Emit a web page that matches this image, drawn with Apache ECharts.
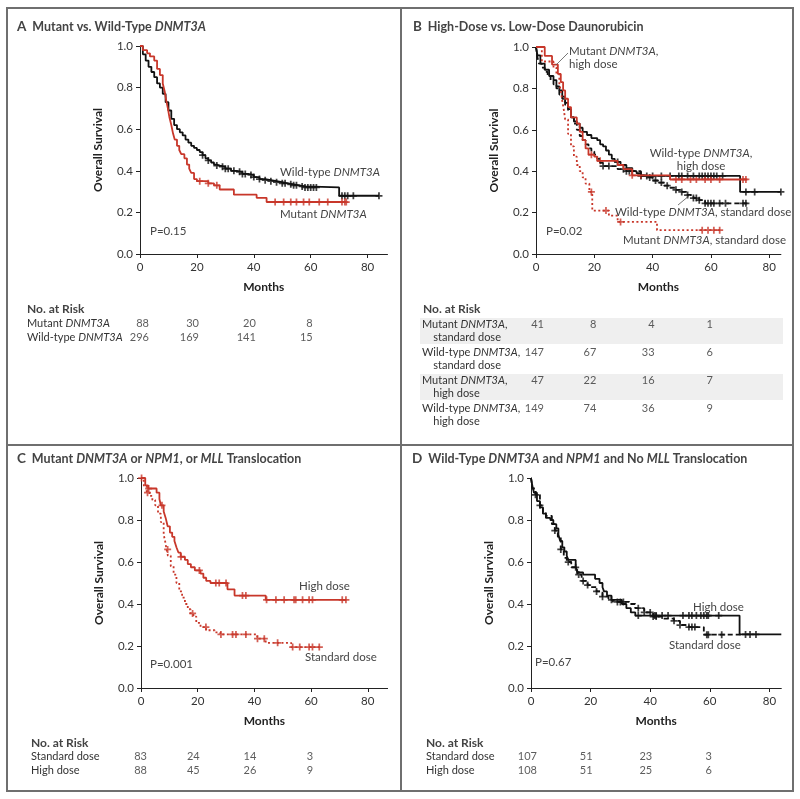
<!DOCTYPE html>
<html><head><meta charset="utf-8">
<script src="https://cdn.jsdelivr.net/npm/echarts@6/dist/echarts.min.js"></script>
<style>html,body{margin:0;padding:0;background:#fff}#c{width:800px;height:799px}</style>
</head><body><div id="c"></div>
<script>
// ---------- data ----------
const tickMonths = [0, 20, 40, 60, 80];
const riskMonths = [0, 20, 40, 60];

// Panel A
const aWildT = [0,1,2,3,4,5,6,7,8,9,10,11,12,13,14,15,16,17,18,19,20,21,22,23,24,25,26,27,28,30,32,34,36,38,40,42,44,46,48,50,52,54,56,58,70];
const aWildS = [1.0,0.96,0.93,0.90,0.875,0.85,0.82,0.80,0.77,0.73,0.69,0.65,0.62,0.60,0.585,0.57,0.55,0.535,0.52,0.51,0.50,0.49,0.475,0.46,0.45,0.44,0.43,0.425,0.42,0.41,0.40,0.395,0.385,0.38,0.37,0.36,0.355,0.35,0.345,0.34,0.335,0.33,0.325,0.32,0.28];
const aWildEnd = 84;
const aWildCens = [22,24,27,29,30,31,33,35,36,37,39,40,42,44,46,48,50,51,53,54,55,57,58,59,60,61,62,71,72,73,75,84];
const aMutT = [0,1,2.5,3.5,5,6,7,8,8.7,9.2,9.8,10.3,11,11.6,12.2,13,13.8,14.5,15.6,16.5,17.3,18,19,20,24,26,28,33,41,44.5];
const aMutS = [1.0,0.98,0.965,0.95,0.93,0.89,0.86,0.82,0.78,0.74,0.70,0.66,0.62,0.58,0.55,0.52,0.50,0.48,0.46,0.43,0.41,0.39,0.36,0.35,0.34,0.33,0.31,0.285,0.27,0.25];
const aMutEnd = 72.5;
const aMutCens = [21,24,27,47.5,50.5,53,55,57.5,59.5,63,66,71,72,72.5];
const aRiskMut = [88,30,20,8];
const aRiskWild = [296,169,141,15];

// Panel B
const bWtHighT = [0,0.5,1.5,3,4.5,6,7,8,9,10,11,12,13,14,15,16,17.5,19,21,22,23,24,25,26,27,29,31,33,34.5,36,70];
const bWtHighS = [1.0,0.96,0.92,0.89,0.86,0.84,0.81,0.79,0.76,0.73,0.70,0.66,0.64,0.63,0.61,0.59,0.575,0.56,0.55,0.53,0.52,0.50,0.48,0.46,0.445,0.43,0.415,0.40,0.39,0.377,0.30];
const bWtHighEnd = 84;
const bWtHighCens = [28,33,36,38,40,43,46,49,50,52,54,56,57,58,59,60,61,62,64,72,75,84];
const bWtStdT = [0,0.5,1,2,3,4,5,6,7,8,9,10,11,12,13,14,15,16,17,18,19,20,21,22,23,28,31,36,38,40,42,44,46,48,50,52,54,56,58];
const bWtStdS = [1.0,0.95,0.92,0.90,0.88,0.86,0.84,0.82,0.80,0.77,0.75,0.72,0.69,0.66,0.63,0.60,0.57,0.55,0.53,0.51,0.495,0.48,0.46,0.44,0.425,0.41,0.40,0.38,0.37,0.355,0.345,0.33,0.32,0.31,0.30,0.285,0.27,0.26,0.245];
const bWtStdEnd = 72.5;
const bWtStdCens = [23,25,30,31,32,36,39,41,43,45,48,50,52,54,55,56,58,59,60,61,63,65,71,72];
const bMutHighT = [0,3,5.5,7.5,8.5,9.3,10,11,12,14,15,16,17,18,20,21,28,30,33,46];
const bMutHighS = [1.0,0.957,0.915,0.87,0.83,0.79,0.75,0.71,0.66,0.63,0.59,0.55,0.51,0.48,0.47,0.45,0.43,0.41,0.38,0.36];
const bMutHighEnd = 72.5;
const bMutHighCens = [19,22,33,36,48,50,53,55,58,60,63,71,72];
const bMutStdT = [0,2,6,7,8,8.5,9,9.5,10,11,12,13,14,15,16,17,18.3,19.3,25,28,41.5];
const bMutStdS = [1.0,0.93,0.90,0.87,0.82,0.79,0.74,0.70,0.65,0.58,0.52,0.47,0.43,0.40,0.37,0.34,0.30,0.21,0.185,0.155,0.115];
const bMutStdEnd = 64;
const bMutStdCens = [19,24,29,57,59,61,63];
const bRiskMutStd = [41,8,4,1];
const bRiskWtStd = [147,67,33,6];
const bRiskMutHigh = [47,22,16,7];
const bRiskWtHigh = [149,74,36,9];

// Panel C
const cHighT = [0,1.5,2.5,5.5,6.5,7,8,8.7,9.4,10.2,11,11.8,12.5,13.2,14,15.5,16.5,17.6,19,21,22,23,24.5,30.5,33,44];
const cHighS = [1.0,0.965,0.95,0.93,0.90,0.87,0.84,0.81,0.77,0.74,0.72,0.70,0.67,0.645,0.625,0.61,0.59,0.575,0.56,0.545,0.525,0.51,0.50,0.47,0.44,0.42];
const cHighEnd = 72.5;
const cHighCens = [0.2,2.7,7.4,14.1,20.6,26.4,27.6,30,35.8,37,44.3,47.6,50.5,54,54.6,57,59.3,60.5,71,72.3];
const cStdT = [0,1,2,3,4,5,6,7,8,8.5,9,9.5,10.5,11.5,12.5,13.5,14.5,15.5,16.5,17.5,18.5,19.5,21,23,26,28,41,44,53];
const cStdS = [1.0,0.96,0.93,0.915,0.895,0.87,0.83,0.79,0.73,0.70,0.66,0.63,0.58,0.54,0.50,0.46,0.43,0.40,0.375,0.355,0.34,0.31,0.29,0.275,0.265,0.255,0.235,0.215,0.195];
const cStdEnd = 64;
const cStdCens = [2.3,9.4,18.2,22.9,28.2,32.3,33.5,37,41.1,43.5,48.2,53.5,56,59.3,60.5,62.9];
const cRiskStd = [83,24,14,3];
const cRiskHigh = [88,45,26,9];

// Panel D
const dHighT = [0,0.5,1,2,3,4,5,6.5,7.5,8.5,9.2,9.8,10.5,11.2,12,12.5,15,15.6,17.5,21.5,23,24,24.5,25.5,27,30.5,32,33.5,35,70];
const dHighS = [1.0,0.96,0.93,0.89,0.86,0.83,0.81,0.80,0.78,0.76,0.73,0.70,0.67,0.65,0.63,0.61,0.58,0.55,0.54,0.52,0.50,0.48,0.46,0.44,0.42,0.40,0.38,0.36,0.345,0.255];
const dHighEnd = 84;
const dHighCens = [36,41.5,42,44,46,51,53,54,55.5,57,58,59,59.5,63,72,73.5,75.5];
const dStdT = [0,0.5,1.5,3,4,5,7,8,9,10,11,12,13.5,15.5,17,19,20,22,24,26,27.5,33,35,38,41,44,48,50,53,58];
const dStdS = [1.0,0.95,0.92,0.87,0.84,0.82,0.78,0.75,0.72,0.66,0.62,0.60,0.575,0.54,0.51,0.49,0.48,0.46,0.435,0.42,0.41,0.40,0.38,0.36,0.34,0.33,0.32,0.30,0.29,0.254];
const dStdEnd = 71;
const dStdCens = [1.5,3,8,10,12.5,15,16,17.5,19,22,24,27,29,30,31,36,38,40,41,42,48,50,53,54,55,59,59.5,64];
const dRiskStd = [107,51,23,3];
const dRiskHigh = [108,51,25,6];

// ---------- helpers ----------
const FONT = 'Lato, "Noto Sans", sans-serif';
const RED = '#c8372a';
const BLACK = '#111';
const TXT = '#333';
const PLUS = 'path://M3,0H5V3H8V5H5V8H3V5H0V3H3Z';

function km(t, s, end) { const d = t.map((v, i) => [v, s[i]]); d.push([end, s[s.length - 1]]); return d; }
function sAt(t, s, x) { let v = s[0]; for (let i = 0; i < t.length; i++) if (t[i] <= x) v = s[i]; return v; }

const grids = [], xAxes = [], yAxes = [], series = [];

function addPlot(box, xMax) {
  const gi = grids.length;
  grids.push(Object.assign({ containLabel: false, outerBoundsMode: 'none' }, box));
  xAxes.push({
    gridIndex: gi, type: 'value', min: 0, max: xMax,
    axisLine: { show: true, onZero: false, lineStyle: { color: '#222', width: 1 } },
    axisTick: { show: true, length: 4, customValues: tickMonths, lineStyle: { color: '#222' } },
    axisLabel: { customValues: tickMonths, color: TXT, fontSize: 11.5, fontFamily: FONT, margin: 7 },
    splitLine: { show: false },
    name: 'Months', nameLocation: 'middle', nameGap: 27,
    nameTextStyle: { fontWeight: 'bold', fontSize: 12, color: '#222', fontFamily: FONT }
  });
  yAxes.push({
    gridIndex: gi, type: 'value', min: 0, max: 1, interval: 0.2,
    axisLine: { show: true, lineStyle: { color: '#222', width: 1 } },
    axisTick: { show: true, length: 4, lineStyle: { color: '#222' } },
    axisLabel: { formatter: v => v.toFixed(1), color: TXT, fontSize: 11.5, fontFamily: FONT, margin: 7 },
    splitLine: { show: false },
    name: 'Overall Survival', nameLocation: 'middle', nameGap: 36,
    nameTextStyle: { fontWeight: 'bold', fontSize: 12, color: '#222', fontFamily: FONT }
  });
  return gi;
}
function addCurve(gi, t, s, end, cens, color, dash) {
  series.push({
    type: 'line', xAxisIndex: gi, yAxisIndex: gi, step: 'end', showSymbol: false, silent: true,
    data: km(t, s, end), animation: false,
    lineStyle: { color: color, width: 1.8, type: dash || 'solid', cap: 'butt' }
  });
  series.push({
    type: 'scatter', xAxisIndex: gi, yAxisIndex: gi, symbol: PLUS, symbolSize: 7, silent: true,
    data: cens.map(x => [x, sAt(t, s, x)]), itemStyle: { color: color }, animation: false
  });
}
const rich = {
  n: { fontSize: 11, fontFamily: FONT, color: TXT },
  i: { fontSize: 11, fontFamily: FONT, color: TXT, fontStyle: 'italic' }
};
function addRisk(box, xMax, labels, rows, labelX, lh, numOffY, firstOff) {
  const gi = grids.length;
  grids.push(Object.assign({ containLabel: false, outerBoundsMode: 'none' }, box));
  xAxes.push({ gridIndex: gi, type: 'value', min: 0, max: xMax, show: false });
  yAxes.push({
    gridIndex: gi, type: 'category', inverse: true, data: labels,
    axisLine: { show: false }, axisTick: { show: false }, splitLine: { show: false },
    axisLabel: { interval: 0, hideOverlap: false, align: 'left', margin: box.left - labelX, fontSize: 11, fontFamily: FONT, color: TXT, lineHeight: lh, rich: rich,
      formatter: v => v }
  });
  const data = [];
  rows.forEach((r, ri) => r.forEach((n, ci) => data.push({
    value: [riskMonths[ci], ri, n],
    label: { offset: [ci === 0 ? firstOff : 2, numOffY] }
  })));
  series.push({
    type: 'scatter', xAxisIndex: gi, yAxisIndex: gi, symbolSize: 0, silent: true, animation: false,
    data: data,
    label: { show: true, position: 'inside', align: 'right', formatter: p => String(p.value[2]),
      fontSize: 11, fontFamily: FONT, color: TXT }
  });
}

// ---------- panels ----------
const gA = addPlot({ left: 140, top: 46, width: 247.5, height: 208 }, 87);
addCurve(gA, aWildT, aWildS, aWildEnd, aWildCens, BLACK);
addCurve(gA, aMutT, aMutS, aMutEnd, aMutCens, RED);
addRisk({ left: 140, top: 316, width: 247.5, height: 28 }, 87,
  ['{n|Mutant }{i|DNMT3A}', '{n|Wild-type }{i|DNMT3A}'], [aRiskMut, aRiskWild], 27, 14, 0, 9);

const gB = addPlot({ left: 536, top: 47, width: 244.9, height: 207 }, 84);
addCurve(gB, bWtStdT, bWtStdS, bWtStdEnd, bWtStdCens, BLACK, [5, 3]);
addCurve(gB, bWtHighT, bWtHighS, bWtHighEnd, bWtHighCens, BLACK);
addCurve(gB, bMutStdT, bMutStdS, bMutStdEnd, bMutStdCens, RED, [2, 2.5]);
addCurve(gB, bMutHighT, bMutHighS, bMutHighEnd, bMutHighCens, RED);
addRisk({ left: 536, top: 317, width: 244.9, height: 112 }, 84,
  ['{n|Mutant }{i|DNMT3A}{n|,}\n{n|    standard dose}', '{n|Wild-type }{i|DNMT3A}{n|,}\n{n|    standard dose}',
   '{n|Mutant }{i|DNMT3A}{n|,}\n{n|    high dose}', '{n|Wild-type }{i|DNMT3A}{n|,}\n{n|    high dose}'],
  [bRiskMutStd, bRiskWtStd, bRiskMutHigh, bRiskWtHigh], 422, 13, -6.5, 8);

const gC = addPlot({ left: 141, top: 478, width: 246.6, height: 210 }, 87);
addCurve(gC, cStdT, cStdS, cStdEnd, cStdCens, RED, [2, 2.5]);
addCurve(gC, cHighT, cHighS, cHighEnd, cHighCens, RED);
addRisk({ left: 141, top: 750, width: 246.6, height: 27 }, 87,
  ['{n|Standard dose}', '{n|High dose}'], [cRiskStd, cRiskHigh], 31, 14, 0, 6);

const gD = addPlot({ left: 531, top: 478, width: 250.3, height: 210 }, 84);
addCurve(gD, dStdT, dStdS, dStdEnd, dStdCens, BLACK, [5, 3]);
addCurve(gD, dHighT, dHighS, dHighEnd, dHighCens, BLACK);
addRisk({ left: 531, top: 750, width: 250.3, height: 27 }, 84,
  ['{n|Standard dose}', '{n|High dose}'], [dRiskStd, dRiskHigh], 426, 14, 0, 6);

// ---------- text / decoration ----------
const tRich = {
  l: { fontSize: 13.5, fontWeight: 'bold', fontFamily: FONT, color: '#111' },
  b: { fontSize: 12.5, fontWeight: 'bold', fontFamily: FONT, color: '#111' },
  bi: { fontSize: 12.5, fontWeight: 'bold', fontStyle: 'italic', fontFamily: FONT, color: '#111' },
  n: { fontSize: 11.5, fontFamily: FONT, color: '#444' },
  i: { fontSize: 11.5, fontFamily: FONT, color: '#444', fontStyle: 'italic' },
  h: { fontSize: 12, fontWeight: 'bold', fontFamily: FONT, color: '#111' }
};
function txt(x, y, text, align, lh) {
  return { type: 'text', x: x, y: y, silent: true, z: 10,
    style: { text: text, rich: tRich, align: align || 'left', verticalAlign: 'middle', lineHeight: lh || 13, fontFamily: FONT, fontSize: 11.5, fill: '#444' } };
}
const graphic = [
  { type: 'rect', shape: { x: 7, y: 8, width: 786, height: 783 }, style: { fill: 'none', stroke: '#6f6f6f', lineWidth: 2 }, silent: true },
  { type: 'line', shape: { x1: 401, y1: 8, x2: 401, y2: 791 }, style: { stroke: '#6f6f6f', lineWidth: 2 }, silent: true },
  { type: 'line', shape: { x1: 7, y1: 445, x2: 793, y2: 445 }, style: { stroke: '#6f6f6f', lineWidth: 2 }, silent: true },
  { type: 'rect', shape: { x: 420, y: 318, width: 363, height: 26 }, style: { fill: '#efefef' }, silent: true, z: -1 },
  { type: 'rect', shape: { x: 420, y: 374, width: 363, height: 26 }, style: { fill: '#efefef' }, silent: true, z: -1 },
  txt(17, 27, '{l|A}  {b|Mutant vs. Wild-Type }{bi|DNMT3A}'),
  txt(413, 27, '{l|B}  {b|High-Dose vs. Low-Dose Daunorubicin}'),
  txt(17, 459, '{l|C}  {b|Mutant }{bi|DNMT3A}{b| or }{bi|NPM1}{b|, or }{bi|MLL}{b| Translocation}'),
  txt(412, 459, '{l|D}  {b|Wild-Type }{bi|DNMT3A}{b| and }{bi|NPM1}{b| and No }{bi|MLL}{b| Translocation}'),
  txt(27, 309, '{h|No. at Risk}'),
  txt(423, 309, '{h|No. at Risk}'),
  txt(31, 743, '{h|No. at Risk}'),
  txt(426, 743, '{h|No. at Risk}'),
  // panel A annotations
  txt(280, 172, '{n|Wild-type }{i|DNMT3A}'),
  txt(280, 214, '{n|Mutant }{i|DNMT3A}'),
  txt(150, 231, '{n|P=0.15}'),
  // panel B annotations
  txt(569, 58, '{n|Mutant }{i|DNMT3A}{n|,}\n{n|high dose}', 'left', 12.5),
  txt(701, 159.5, '{n|Wild-type }{i|DNMT3A}{n|,}\n{n|high dose}', 'center', 13),
  txt(615, 212, '{n|Wild-type }{i|DNMT3A}{n|, standard dose}'),
  txt(623, 240, '{n|Mutant }{i|DNMT3A}{n|, standard dose}'),
  txt(546, 231, '{n|P=0.02}'),
  { type: 'line', shape: { x1: 568, y1: 53, x2: 556, y2: 65 }, style: { stroke: '#555', lineWidth: 0.8 }, silent: true, z: 10 },
  { type: 'line', shape: { x1: 678, y1: 205, x2: 690, y2: 195 }, style: { stroke: '#555', lineWidth: 0.8 }, silent: true, z: 10 },
  // panel C annotations
  txt(299, 586, '{n|High dose}'),
  txt(305, 657, '{n|Standard dose}'),
  txt(150, 664, '{n|P=0.001}'),
  // panel D annotations
  txt(693, 607, '{n|High dose}'),
  txt(669, 645, '{n|Standard dose}'),
  txt(535, 662, '{n|P=0.67}')
];

const chart = echarts.init(document.getElementById('c'), null, { renderer: 'canvas' });
chart.setOption({
  backgroundColor: '#fff',
  animation: false,
  textStyle: { fontFamily: FONT },
  grid: grids, xAxis: xAxes, yAxis: yAxes, series: series, graphic: graphic
});
</script></body></html>
